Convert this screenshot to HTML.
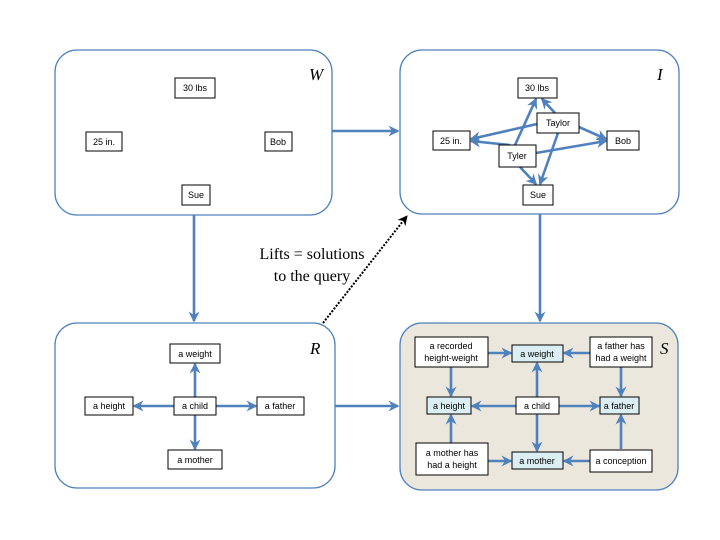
<!DOCTYPE html>
<html><head><meta charset="utf-8"><style>body{margin:0;background:#fff}svg{display:block}</style></head><body>
<svg width="720" height="540" xmlns="http://www.w3.org/2000/svg" font-family="Liberation Sans, sans-serif">
<defs>
<marker id="a" markerWidth="11" markerHeight="11" refX="9.5" refY="5.5" orient="auto" markerUnits="userSpaceOnUse"><path d="M0,0 L11,5.5 L0,11 L3.5,5.5 z" fill="#4f81bd"/></marker>
<marker id="b" markerWidth="10" markerHeight="10" refX="9" refY="5" orient="auto" markerUnits="userSpaceOnUse"><path d="M0,0 L10,5 L0,10 L3,5 z" fill="#000"/></marker>
</defs>
<g fill="#fff" stroke="#4f81bd" stroke-width="1.3">
<rect x="55" y="50" width="277" height="165" rx="22"/>
<rect x="400" y="50" width="279" height="164" rx="22"/>
<rect x="55" y="323" width="280" height="165" rx="22"/>
<rect x="400" y="323" width="278" height="167" rx="22" fill="#ebe7dc"/>
</g>
<g font-family="Liberation Serif, serif" font-style="italic" font-size="17">
<text x="309" y="80">W</text><text x="657" y="80">I</text><text x="310" y="354">R</text><text x="660" y="354">S</text>
</g>
<g stroke="#4f81bd" stroke-width="2.6" fill="none" marker-end="url(#a)">
<line x1="194" y1="215" x2="194" y2="321"/>
<line x1="332" y1="131" x2="398" y2="131"/>
<line x1="540" y1="214" x2="540" y2="321"/>
<line x1="335" y1="406" x2="398" y2="406"/>
<line x1="195" y1="397" x2="195" y2="364"/>
<line x1="195" y1="415" x2="195" y2="449"/>
<line x1="174" y1="406" x2="134" y2="406"/>
<line x1="216" y1="406" x2="256" y2="406"/>
<line x1="515" y1="145" x2="536" y2="99"/>
<line x1="510" y1="145" x2="471" y2="141"/>
<line x1="520" y1="167" x2="536" y2="184"/>
<line x1="536" y1="153" x2="606" y2="141"/>
<line x1="555" y1="113" x2="542" y2="99"/>
<line x1="537" y1="124" x2="471" y2="139"/>
<line x1="579" y1="127" x2="606" y2="139"/>
<line x1="558" y1="133" x2="540" y2="184"/>
<line x1="488" y1="353" x2="511" y2="353"/>
<line x1="590" y1="353" x2="564" y2="353"/>
<line x1="451" y1="367" x2="451" y2="396"/>
<line x1="621" y1="367" x2="621" y2="396"/>
<line x1="537" y1="397" x2="537" y2="363"/>
<line x1="537" y1="414" x2="537" y2="451"/>
<line x1="516" y1="406" x2="472" y2="406"/>
<line x1="559" y1="406" x2="599" y2="406"/>
<line x1="451" y1="443" x2="451" y2="415"/>
<line x1="621" y1="449" x2="621" y2="415"/>
<line x1="488" y1="461" x2="511" y2="461"/>
<line x1="590" y1="461" x2="564" y2="461"/>
</g>
<line x1="323" y1="323" x2="407" y2="216" stroke="#000" stroke-width="2" stroke-dasharray="2,1.5" marker-end="url(#b)"/>
<text font-family="Liberation Serif, serif" font-size="16" text-anchor="middle"><tspan x="312" y="259">Lifts = solutions</tspan><tspan x="312" y="281">to the query</tspan></text>
<g stroke="#000" stroke-width="1" fill="#fff">
<rect x="175" y="78" width="40" height="20"/><rect x="86" y="132" width="36" height="19"/><rect x="265" y="132" width="27" height="19"/><rect x="182" y="185" width="28" height="20"/>
<rect x="518" y="78" width="39" height="20"/><rect x="433" y="131" width="37" height="19"/><rect x="607" y="131" width="32" height="19"/><rect x="523" y="185" width="30" height="20"/>
<rect x="537" y="113" width="42" height="20"/><rect x="499" y="145" width="37" height="22"/>
<rect x="170" y="344" width="50" height="19"/><rect x="85" y="397" width="48" height="18"/><rect x="174" y="397" width="42" height="18"/><rect x="257" y="397" width="47" height="18"/><rect x="168" y="450" width="54" height="19"/>
<rect x="415" y="337" width="73" height="30"/><rect x="590" y="337" width="62" height="30"/><rect x="416" y="443" width="72" height="32"/><rect x="590" y="450" width="62" height="22"/><rect x="516" y="397" width="43" height="17"/>
<g fill="#daeef3"><rect x="512" y="345" width="51" height="17"/><rect x="427" y="397" width="44" height="17"/><rect x="600" y="397" width="39" height="17"/><rect x="512" y="452" width="51" height="17"/></g>
</g>
<g font-size="9" text-anchor="middle" fill="#000">
<text x="195" y="91">30 lbs</text><text x="104" y="145">25 in.</text><text x="278" y="145">Bob</text><text x="196" y="198">Sue</text>
<text x="537" y="91">30 lbs</text><text x="451" y="144">25 in.</text><text x="623" y="144">Bob</text><text x="538" y="198">Sue</text>
<text x="558" y="126">Taylor</text><text x="517" y="159">Tyler</text>
<text x="195" y="357">a weight</text><text x="109" y="409">a height</text><text x="195" y="409">a child</text><text x="280" y="409">a father</text><text x="195" y="463">a mother</text>
<text x="451" y="349">a recorded</text><text x="451" y="361">height-weight</text>
<text x="621" y="349">a father has</text><text x="621" y="361">had a weight</text>
<text x="452" y="456">a mother has</text><text x="452" y="468">had a height</text>
<text x="621" y="464">a conception</text>
<text x="537" y="357">a weight</text><text x="449" y="409">a height</text><text x="537" y="409">a child</text><text x="619" y="409">a father</text><text x="537" y="464">a mother</text>
</g>
</svg>
</body></html>
